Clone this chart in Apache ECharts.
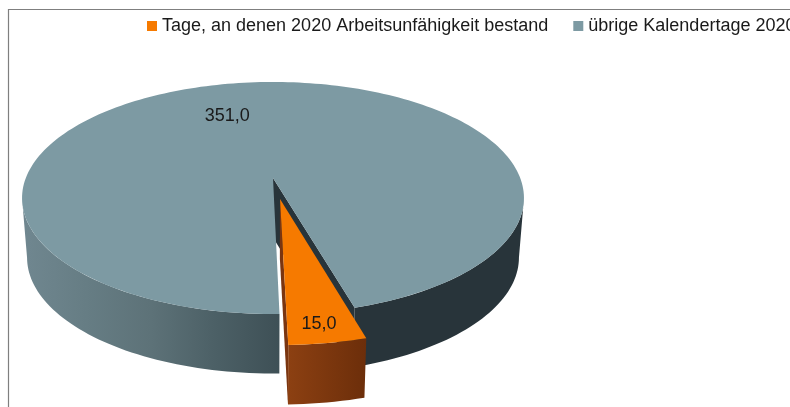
<!DOCTYPE html>
<html><head><meta charset="utf-8">
<style>html,body{margin:0;padding:0;background:#fff}#c{width:790px;height:407px}</style>
<script src="https://cdn.jsdelivr.net/npm/echarts@6/dist/echarts.min.js"></script>
</head><body><div id="c"></div>
<script>
const categories = ['Tage, an denen 2020 Arbeitsunfähigkeit bestand', 'übrige Kalendertage 2020'];
const values = [15, 351];
const colors = ['#F67A00', '#7D9AA3'];

const firstAngle = 164, explodeFirst = 0.183;
const CX = 273, PB = 178, PA = 81.9, PC = -0.1724, PK = 247.2;
const depth = 59.5, bottomScale = 0.98;
const rimLeft = 260, rimRight = 100;
const total = values.reduce((s, v) => s + v, 0);

function proj(X, Y) {
  const d = 1 + PC * Y;
  return [CX + PK * X / d, (PA * Y + PB) / d];
}
function low(p) { return [CX + (p[0] - CX) * bottomScale, p[1] + depth]; }
function pt(deg, r, off) {
  const t = deg * Math.PI / 180;
  return proj(r * Math.sin(t) + off[0], -r * Math.cos(t) + off[1]);
}
function arc(a0, a1, off) {
  const out = [], n = Math.max(2, Math.ceil(Math.abs(a1 - a0) / 1.5));
  for (let i = 0; i <= n; i++) out.push(pt(a0 + (a1 - a0) * i / n, 1, off));
  return out;
}
function band(a0, a1, off) {
  const t = arc(a0, a1, off);
  return t.concat(t.map(low).reverse());
}
function grad(stops) {
  return new echarts.graphic.LinearGradient(0, 0, 1, 0,
    stops.map((c, i) => ({ offset: i / (stops.length - 1), color: c })));
}
function poly(points, fill) {
  return { type: 'polygon', shape: { points }, style: { fill, stroke: null }, silent: true };
}
function label(value, p, dx, dy) {
  return { type: 'text', silent: true, z2: 10,
    style: { text: value.toFixed(1).replace('.', ','), x: p[0] + dx, y: p[1] + dy, align: 'center',
      verticalAlign: 'middle', fill: '#1a1a1a', font: '18px "Liberation Sans", Arial, sans-serif' } };
}
const a0 = firstAngle, a1 = a0 + values[0] / total * 360, a2 = a0 + 360;

function drawRest(params, api) {
  const off = [0, 0], apex = proj(0, 0), v = api.value(0);
  const endPt = pt(a2, 1, off), mid = (a1 + a2) / 2;
  return { type: 'group', children: [
    poly(band(a1, rimLeft, off), grad(['#708790', '#667D84', '#5D7278', '#4C6066', '#3E5056'])),
    poly(band(rimRight + 360, a2, off), '#28343A'),
    poly([apex, endPt, low(endPt), low(apex)], '#28343A'),
    poly([apex].concat(arc(a1, a2, off)), colors[1]),
    label(v, pt(mid, 0.62, off), -25, 0)
  ] };
}
function drawFirst(params, api) {
  const m = (a0 + a1) / 2 * Math.PI / 180;
  const off = [explodeFirst * Math.sin(m), -explodeFirst * Math.cos(m)];
  const apex = proj(off[0], off[1]), v = api.value(0);
  const leftPt = pt(a1, 1, off);
  return { type: 'group', children: [
    poly([apex, leftPt, low(leftPt), low(apex)], '#7A3510'),
    poly(band(a0, a1, off), grad(['#8C4012', '#6C2E0A'])),
    poly([apex].concat(arc(a0, a1, off)), colors[0]),
    label(v, pt((a0 + a1) / 2, 0.88, off), -2, 2)
  ] };
}

const chart = echarts.init(document.getElementById('c'), null, { renderer: 'canvas' });
chart.setOption({
  animation: false,
  backgroundColor: '#fff',
  color: colors,
  legend: {
    left: 147, top: 17, width: 900, padding: 0, itemWidth: 10, itemHeight: 10, itemGap: 25, icon: 'rect',
    textStyle: { fontFamily: '"Liberation Sans", Arial, sans-serif', fontSize: 18, color: '#1a1a1a' },
    data: categories, selectedMode: false
  },
  graphic: [{ type: 'polyline', silent: true, shape: { points: [[8.5, 407], [8.5, 9.5], [790, 9.5]] },
    style: { stroke: '#7f7f7f', lineWidth: 1.2, fill: null } }],
  series: [
    { type: 'custom', name: categories[1], coordinateSystem: 'none', silent: true, data: [values[1]], renderItem: drawRest, z: 2, itemStyle: { color: colors[1] } },
    { type: 'custom', name: categories[0], coordinateSystem: 'none', silent: true, data: [values[0]], renderItem: drawFirst, z: 3, itemStyle: { color: colors[0] } }
  ]
});
</script></body></html>
